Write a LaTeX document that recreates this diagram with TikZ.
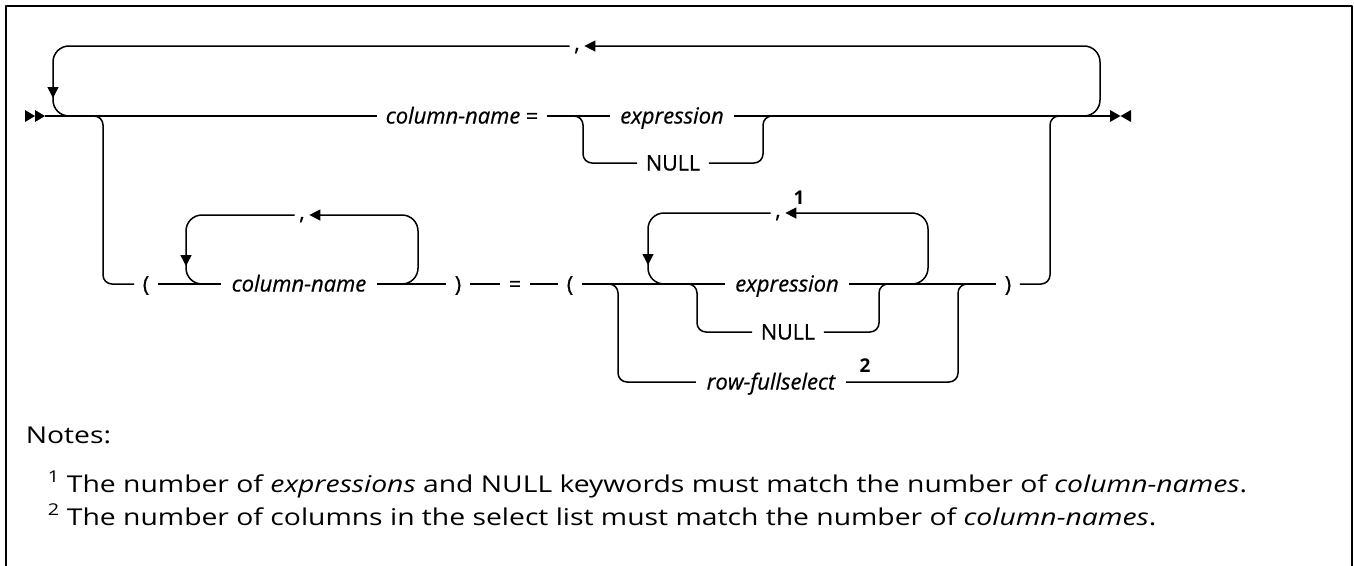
\documentclass[tikz,border=0pt]{standalone}
\usepackage{fontspec}
\setmainfont{Open Sans}
\newfontfamily\notesfont[FakeStretch=1.22]{Open Sans}
\newfontfamily\diagfont[FakeBold=0.6]{Open Sans}
\usetikzlibrary{arrows.meta}
\begin{document}
\begin{tikzpicture}[x=1pt,y=-1pt,line width=1.5pt,line join=round,
  lbl/.style={font=\diagfont\fontsize{21.5}{25}\selectfont, inner xsep=8pt, inner ysep=0pt, text height=15pt, text depth=0pt},
  ilbl/.style={lbl, font=\diagfont\fontsize{22}{26}\selectfont\itshape, inner xsep=10pt},
  cma/.style={lbl, inner xsep=4pt, text height=9pt},
  supnum/.style={font=\fontsize{19}{22}\selectfont\bfseries, inner sep=0pt},
  notetext/.style={font=\notesfont\fontsize{23.2}{27}\selectfont, inner sep=0pt, anchor=base west},
  loopr/.style={rounded corners=16pt},
  splitr/.style={rounded corners=9pt},
  tip/.style={-{Triangle[length=11pt,width=11pt]}},
  marker/.style={fill=black, draw=none}]
\useasboundingbox (0,0) rectangle (1354,565);
% frame
\draw[line width=2.6pt] (6,567) -- (6,6) -- (1352,6) -- (1352,567);

% start and end markers
\fill[marker] (25,110) -- (35,116) -- (25,122) -- cycle;
\fill[marker] (35,110) -- (45,116) -- (35,122) -- cycle;
\fill[marker] (1110,110) -- (1120.5,116) -- (1110,122) -- cycle;
\fill[marker] (1131,110) -- (1120.5,116) -- (1131,122) -- cycle;
\coordinate (start) at (45,116);
\coordinate (fin) at (1110,116);

% ---------- text nodes ----------
\node[lbl] (cn1) at (462,116) {\fontsize{22}{26}\selectfont\textit{column-name}\fontsize{21.5}{25}\selectfont{} =};
\node[ilbl] (e1) at (672,116) {expression};
\node[lbl] (n1) at (673,163) {NULL};
\node[cma] (c1) at (577,46) {,};

\node[lbl] (p1) at (146,284) {(};
\node[ilbl] (cn2) at (299,284) {column-name};
\node[cma] (c2) at (302,215) {,};
\node[lbl] (p2) at (458,284) {)};
\node[lbl] (eq) at (515,284) {=};
\node[lbl] (p3) at (570,284) {(};
\node[ilbl] (e2) at (787,284) {expression};
\node[cma] (c3) at (778,213) {,};
\node[supnum] (s1) at (799,198) {1};
\node[lbl] (n2) at (788,332) {NULL};
\node[ilbl] (rf) at (771,382) {row-fullselect};
\node[supnum] (s2) at (865,366) {2};
\node[lbl] (p4) at (1008,284) {)};

% ---------- junction coordinates ----------
\coordinate (L1) at (53,46);   \coordinate (L1a) at (53,98);  \coordinate (L1m) at (53,90);
\coordinate (L1b) at (53,116); \coordinate (L1e) at (78,116);
\coordinate (R1s) at (1075,116); \coordinate (R1b) at (1100,116); \coordinate (R1) at (1100,46);

\coordinate (B1s) at (86,116); \coordinate (B1) at (103,116); \coordinate (B1b) at (103,284);

\coordinate (X1s) at (570,116); \coordinate (X1L) at (583,116); \coordinate (X1Lb) at (583,163);
\coordinate (X1Rb) at (763,163); \coordinate (X1R) at (763,116); \coordinate (X1e) at (776,116);

\coordinate (K1s) at (392,284); \coordinate (K1Rb) at (418,284); \coordinate (K1R) at (418,215);
\coordinate (K1L) at (186,215); \coordinate (K1a) at (186,266); \coordinate (K1m) at (186,255);
\coordinate (K1Lb) at (186,284); \coordinate (K1e) at (212,284);

\coordinate (S2s) at (604,284); \coordinate (S2L) at (618,284); \coordinate (S2Lb) at (618,382);
\coordinate (S2Rb) at (958,382); \coordinate (S2R) at (958,284); \coordinate (S2e) at (972,284);

\coordinate (K2s) at (902,284); \coordinate (K2Rb) at (928,284); \coordinate (K2R) at (928,213);
\coordinate (K2L) at (648,213); \coordinate (K2a) at (648,265); \coordinate (K2m) at (648,254);
\coordinate (K2Lb) at (648,284); \coordinate (K2e) at (674,284);

\coordinate (X2s) at (684,284); \coordinate (X2L) at (697,284); \coordinate (X2Lb) at (697,332);
\coordinate (X2Rb) at (879,332); \coordinate (X2R) at (879,284); \coordinate (X2e) at (892,284);

\coordinate (U) at (1050,284); \coordinate (Ut) at (1050,116); \coordinate (Ue) at (1064,116);

% ---------- top row ----------
\draw (start) -- (cn1.west);
\draw (cn1.east) -- (e1.west);
\draw (e1.east) -- (fin);
\draw[splitr] (X1s) -- (X1L) -- (X1Lb) -- (n1.west);
\draw[splitr] (n1.east) -- (X1Rb) -- (X1R) -- (X1e);

% outer repeat loop
\draw[loopr,tip] (R1s) -- (R1b) -- (R1) -- (c1.east);
\draw[loopr,tip] (c1.west) -- (L1) -- (L1a);
\draw[loopr] (L1m) -- (L1b) -- (L1e);

% branch to second row
\draw[splitr] (B1s) -- (B1) -- (B1b) -- (p1.west);

% ---------- second row ----------
\draw (p1.east) -- (cn2.west);
\draw (cn2.east) -- (p2.west);
\draw (p2.east) -- (eq.west);
\draw (eq.east) -- (p3.west);
\draw (p3.east) -- (e2.west);
\draw (e2.east) -- (p4.west);
\draw[splitr] (p4.east) -- (U) -- (Ut) -- (Ue);

% column-name repeat loop
\draw[loopr,tip] (K1s) -- (K1Rb) -- (K1R) -- (c2.east);
\draw[loopr,tip] (c2.west) -- (K1L) -- (K1a);
\draw[loopr] (K1m) -- (K1Lb) -- (K1e);

% row-fullselect alternative
\draw[splitr] (S2s) -- (S2L) -- (S2Lb) -- (rf.west);
\draw[splitr] (rf.east) -- (S2Rb) -- (S2R) -- (S2e);

% expression repeat loop
\draw[loopr,tip] (K2s) -- (K2Rb) -- (K2R) -- (c3.east);
\draw[loopr,tip] (c3.west) -- (K2L) -- (K2a);
\draw[loopr] (K2m) -- (K2Lb) -- (K2e);

% NULL alternative
\draw[splitr] (X2s) -- (X2L) -- (X2Lb) -- (n2.west);
\draw[splitr] (n2.east) -- (X2Rb) -- (X2R) -- (X2e);

% ---------- notes ----------
\node[notetext] (notes) at (25,443) {Notes:};
\node[notetext] (note1) at (47,492) {\textsuperscript{1} The number of \textit{expressions} and NULL keywords must match the number of \textit{column-names}.};
\node[notetext] (note2) at (47,525) {\textsuperscript{2} The number of columns in the select list must match the number of \textit{column-names}.};
\end{tikzpicture}
\end{document}
